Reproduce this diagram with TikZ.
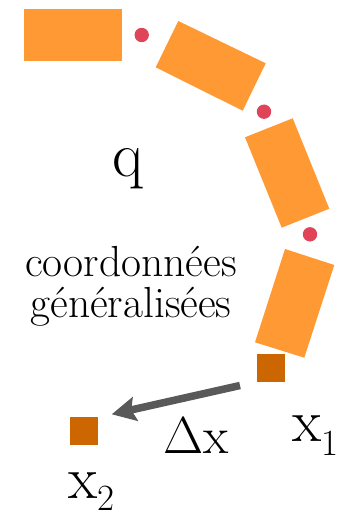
\RequirePackage{fix-cm}
\documentclass[tikz,border=0pt]{standalone}
\usepackage{fontspec}
\usetikzlibrary{arrows.meta}
\definecolor{segorange}{RGB}{255,153,51}
\definecolor{jointred}{RGB}{224,68,88}
\definecolor{ptorange}{RGB}{204,102,0}
\definecolor{arrgray}{RGB}{89,89,89}
\tikzset{
  segment/.style={fill=segorange, draw=none},
  joint/.style={fill=jointred, draw=none},
  ptsq/.style={fill=ptorange, draw=none, minimum size=28pt, inner sep=0pt, outer sep=0pt},
  lbl/.style={inner sep=0pt, outer sep=0pt, text=black},
  disp/.style={draw=arrgray, line width=7.5pt, -{Stealth[length=24pt,width=24pt,inset=4pt]}}
}
\begin{document}
\begin{tikzpicture}[x=1pt,y=-1pt]
\useasboundingbox (0,0) rectangle (347,516);
% segments
\fill[segment] (24,9.3) -- (121.7,9.3) -- (121.7,61) -- (24,61) -- cycle;
\fill[segment] (178.3,21) -- (265.7,63.3) -- (242.7,110.7) -- (155.7,67.3) -- cycle;
\fill[segment] (245,137.3) -- (292.7,118.3) -- (329.3,208.7) -- (281.7,227.7) -- cycle;
\fill[segment] (285,249) -- (334.3,265) -- (304.3,357.7) -- (255,342.3) -- cycle;
% joints
\fill[joint] (141.7,35) circle (7.2);
\fill[joint] (264,111.7) circle (7.2);
\fill[joint] (310,234.3) circle (7.2);
% points
\node[ptsq] (x1) at (270.5,368) {};
\node[ptsq] (x2) at (83.5,431) {};
% labels
\node[lbl, anchor=base, font=\fontsize{64}{64}\selectfont] (q) at (128,176.5) {q};
\node[lbl, anchor=base, align=center, font=\fontsize{43.5}{41}\selectfont] (coord) at (131,317)
  {coordonnées\\généralisées};
\node[lbl, anchor=base west, font=\fontsize{52}{52}\selectfont] (dx) at (163,453) {$\Delta$x};
\node[lbl, anchor=base west, font=\fontsize{60}{60}\selectfont] (x1l) at (292,441.7)
  {x\raisebox{-14pt}{\fontsize{37}{37}\selectfont 1}};
\node[lbl, anchor=base west, font=\fontsize{60}{60}\selectfont] (x2l) at (68.5,498)
  {x\raisebox{-12pt}{\fontsize{37}{37}\selectfont 2}};
% displacement arrow
\coordinate (arrS) at (240,385.5);
\coordinate (arrE) at (111.7,414.3);
\draw[disp] (arrS) -- (arrE);
\end{tikzpicture}
\end{document}
